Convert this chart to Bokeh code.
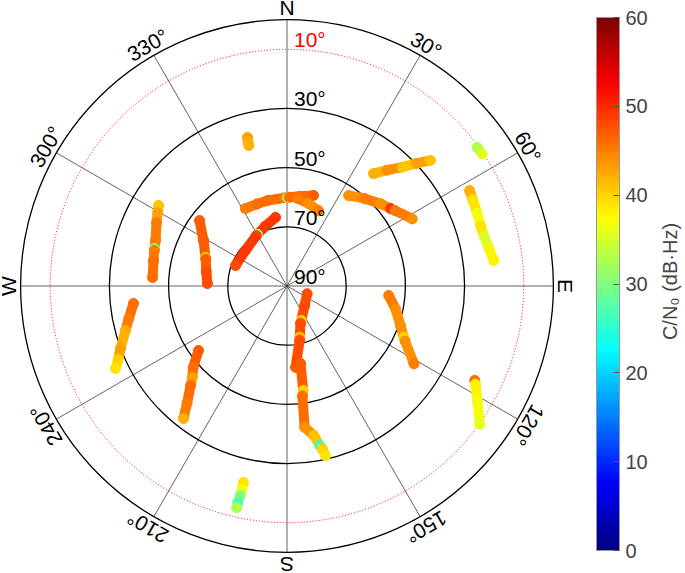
import numpy as np
from bokeh.plotting import figure
from bokeh.models import ColumnDataSource, ColorBar, LinearColorMapper, FixedTicker, Label
from bokeh.core.properties import value
from bokeh.embed import file_html
from bokeh.resources import INLINE

# ---------------- data ----------------
ring_elev = [70, 50, 30, 0]
mask_elev = [10]
ring_label_elev = [90, 70, 50, 30]
ring_labels = ["90°", "70°", "50°", "30°"]
mask_labels = ["10°"]
spoke_az = [0, 30, 60, 90, 120, 150, 180, 210, 240, 270, 300, 330]
az_labels = ["N", "30°", "60°", "E", "120°", "150°", "S", "210°", "240°", "W", "300°", "330°"]
cbar_ticks = [0, 10, 20, 30, 40, 50, 60]
cbar_title = "C/N\u2080 (dB·Hz)"

track_az = [
    [345.1, 344.9, 344.8],
    [302.1, 299.5, 295.9, 289.1, 285.8, 285.0, 280.8, 273.6],
    [306.8, 298.6, 289.3, 288.3, 280.0, 271.8],
    [350.5, 340.0, 330.2, 328.5, 310.5, 291.7],
    [331.8, 340.0, 347.2, 358.8, 0.3, 1.5, 8.0, 16.3],
    [6.8, 14.6, 22.6],
    [37.6, 40.8, 44.1, 46.5, 48.8],
    [34.3, 41.5, 48.7, 53.2, 55.0, 61.8],
    [53.9, 55.9],
    [62.4, 65.0, 69.0, 72.6, 76.0, 79.5, 83.0],
    [263.5, 258.5, 254.6, 249.4, 246.5, 244.3],
    [233.9, 229.0, 226.0, 224.1, 220.5, 218.0],
    [192.5, 192.5, 192.6, 192.8, 192.8],
    [111.1, 138.1, 157.6, 160.0, 166.0, 166.8, 174.0, 170.1, 171.2, 172.0, 172.9, 169.8, 168.4, 167.8, 167.2],
    [95.3, 102.0, 109.2, 113.7, 115.0, 121.5],
    [116.7, 117.5, 121.0, 125.6],
]
track_el = [
    [38.1, 39.5, 40.8],
    [38.8, 39.8, 41.0, 43.0, 43.5, 43.6, 44.1, 44.5],
    [53.1, 57.9, 60.8, 61.1, 62.3, 63.1],
    [66.5, 68.5, 69.9, 70.1, 71.5, 71.3],
    [60.3, 60.5, 60.4, 60.2, 60.1, 60.0, 59.4, 58.1],
    [60.2, 61.2, 62.4],
    [42.1, 38.3, 34.1, 29.8, 25.6],
    [53.0, 50.5, 47.9, 46.3, 45.5, 42.0],
    [10.5, 10.4],
    [20.4, 20.8, 21.2, 21.5, 21.3, 20.6, 19.6],
    [37.8, 35.5, 33.4, 29.9, 27.8, 25.7],
    [53.0, 48.0, 45.5, 43.2, 38.0, 33.2],
    [22.0, 19.5, 17.5, 15.0, 13.2],
    [82.7, 81.1, 77.4, 76.6, 72.2, 71.2, 62.4, 63.4, 54.3, 52.5, 41.9, 38.7, 35.0, 33.8, 31.3],
    [55.5, 52.5, 49.4, 46.9, 46.0, 39.7],
    [19.0, 18.2, 15.0, 9.9],
]
track_cn0 = [
    [43, 42, 42],
    [41, 43, 45, 45, 30, 45, 46, 46],
    [47, 47, 40, 47, 48, 48],
    [49, 49, 30, 49, 49, 48],
    [45, 46, 46, 45, 32, 46, 46, 47],
    [45, 44, 45],
    [42, 44, 41, 43, 41],
    [44, 45, 44, 49, 45, 44],
    [33, 36],
    [42, 39, 37, 39, 35, 38, 38],
    [46, 45, 42, 43, 40, 39],
    [47, 46, 43, 46, 45, 42],
    [39, 37, 30, 27, 33],
    [48, 48, 40, 48, 41, 48, 47, 47, 40, 46, 44, 41, 26, 40, 39],
    [45, 44, 44, 40, 44, 45],
    [46, 38, 37, 36],
]

# ---------------- helpers ----------------
def jet(n=256):
    cols = []
    for t in np.linspace(0, 1, n):
        r = np.clip(1.5 - abs(4 * t - 3), 0, 1)
        g = np.clip(1.5 - abs(4 * t - 2), 0, 1)
        b = np.clip(1.5 - abs(4 * t - 1), 0, 1)
        cols.append("#%02x%02x%02x" % (int(r * 255), int(g * 255), int(b * 255)))
    return cols

def to_xy(az, el):
    a = np.radians(np.asarray(az, dtype=float))
    r = 90.0 - np.asarray(el, dtype=float)
    return r * np.sin(a), r * np.cos(a)

FONT = value("Liberation Sans")
K = 2.96            # px per degree of zenith distance
W, H = 685, 573
CX, CY = 286.5, 285.5

p = figure(width=W, height=H,
           x_range=(-CX / K, (W - CX) / K), y_range=(-(H - CY) / K, CY / K),
           output_backend="svg", toolbar_location=None,
           x_axis_location=None, y_axis_location=None, min_border=0)
p.grid.visible = False
p.outline_line_color = None
p.background_fill_color = "white"

mapper = LinearColorMapper(palette=jet(), low=0, high=60)

# spokes
sx, sy = to_xy(spoke_az, [0] * len(spoke_az))
p.segment(x0=[0] * len(sx), y0=[0] * len(sy), x1=sx, y1=sy, line_color="#3a3a3a", line_width=0.8)

# rings
p.circle(x=[0] * len(ring_elev), y=[0] * len(ring_elev), radius=[90 - e for e in ring_elev],
         fill_color=None, line_color="black", line_width=1.3)
p.circle(x=[0] * len(mask_elev), y=[0] * len(mask_elev), radius=[90 - e for e in mask_elev],
         fill_color=None, line_color="red", line_width=1, line_dash="1 2")

# tracks
seg = dict(x0=[], y0=[], x1=[], y1=[], c=[])
pts = dict(x=[], y=[], c=[])
for az, el, cn in zip(track_az, track_el, track_cn0):
    x, y = to_xy(az, el)
    for i in range(len(x) - 1):
        seg["x0"].append(x[i]); seg["y0"].append(y[i])
        seg["x1"].append(x[i + 1]); seg["y1"].append(y[i + 1])
        seg["c"].append(cn[i])
    pts["x"].extend(x); pts["y"].extend(y); pts["c"].extend(cn)

p.segment(x0="x0", y0="y0", x1="x1", y1="y1", source=ColumnDataSource(seg),
          line_color={"field": "c", "transform": mapper}, line_width=10, line_cap="round")
p.scatter(x="x", y="y", source=ColumnDataSource(pts), size=10, marker="circle",
          fill_color={"field": "c", "transform": mapper},
          line_color={"field": "c", "transform": mapper}, line_width=1)

# elevation labels
p.text(x=[0] * len(ring_label_elev), y=[90 - e for e in ring_label_elev], text=ring_labels,
       text_font=FONT, text_font_size=value("21px"), text_color="black",
       text_align="left", text_baseline="bottom", x_offset=7, y_offset=2)
p.text(x=[0] * len(mask_elev), y=[90 - e for e in mask_elev], text=mask_labels,
       text_font=FONT, text_font_size=value("21px"), text_color="red",
       text_align="left", text_baseline="bottom", x_offset=7, y_offset=2)

# azimuth labels
lr = 90 + 0.5 / K
lx = [lr * np.sin(np.radians(a)) for a in spoke_az]
ly = [lr * np.cos(np.radians(a)) for a in spoke_az]
p.text(x=lx, y=ly, text=az_labels, angle=[-np.radians(a) for a in spoke_az],
       text_font=FONT, text_font_size=value("21px"), text_color="black",
       text_align="center", text_baseline="bottom")

# colorbar
cb = ColorBar(color_mapper=mapper, location=(596, 23), width=23, height=533,
              padding=0, margin=0, ticker=FixedTicker(ticks=cbar_ticks),
              major_label_text_font="Liberation Sans", major_label_text_font_size="20px",
              label_standoff=6, major_tick_in=6, major_tick_out=0,
              major_tick_line_color="#555555", bar_line_color="#999999",
              background_fill_alpha=0, border_line_color=None)
p.add_layout(cb)

p.add_layout(Label(x=(669 - CX) / K, y=(CY - 281) / K, text=cbar_title, angle=np.pi / 2,
                   text_align="center", text_baseline="middle",
                   text_font="Liberation Sans", text_font_size="20px"))

open("out.html", "w").write(file_html(p, INLINE))
